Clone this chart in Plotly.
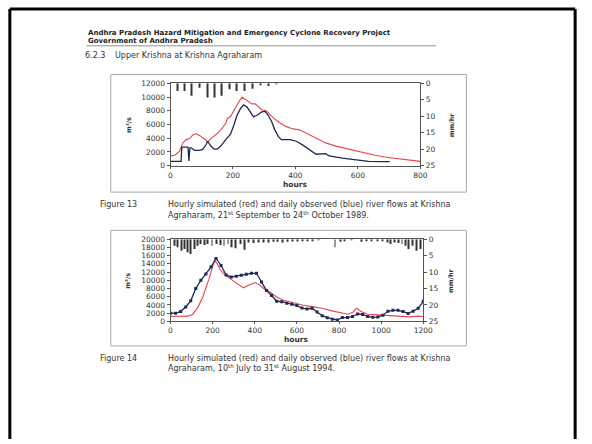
import plotly.graph_objects as go

W, H = 592, 444

# ---------------- Figure 13 data (21 Sep - 24 Oct 1989) ----------------
f13_sim_hours = [0, 14, 29, 40, 50, 61, 72, 82, 93, 103, 114, 119, 129, 145, 161, 177, 182, 192,
                 203, 219, 229, 240, 250, 261, 271, 282, 292, 303, 313, 329, 350, 371, 392, 413,
                 434, 466, 497, 529, 571, 613, 655, 697, 739, 800]
f13_sim_flow = [1420, 1520, 2130, 3320, 3800, 3940, 4500, 4650, 4410, 4130, 3700, 3460, 3940, 4500,
                5220, 6170, 6880, 7120, 8060, 9340, 9960, 9630, 9250, 9010, 9010, 8540, 8160, 8060,
                7730, 6970, 6260, 5690, 5360, 5220, 4740, 3940, 3320, 2850, 2370, 1900, 1520, 1190,
                950, 620]

f13_obs_hours = [0, 34, 36, 56, 59, 62, 66, 77, 93, 103, 114, 119, 129, 140, 150, 161, 177, 192,
                 203, 213, 224, 234, 245, 258, 266, 277, 292, 303, 313, 324, 334, 345, 355, 382,
                 403, 424, 445, 466, 497, 508, 550, 592, 634, 687, 702]
f13_obs_flow = [620, 620, 2700, 2700, 700, 2600, 2600, 2230, 2230, 2370, 3080, 3560, 2850, 2420,
                2420, 2850, 3800, 4600, 5930, 7350, 8300, 8870, 8540, 7590, 7120, 7350, 7830, 7920,
                7350, 6400, 5220, 4270, 3800, 3800, 3560, 2990, 2370, 1660, 1760, 1420, 1090, 810,
                620, 600, 600]

f13_rain_hours = [21, 45, 68, 93, 118, 141, 165, 189, 213, 238, 262, 287, 314, 338]
f13_rain_mm = [2.3, 2.3, 3.8, 1.3, 4.3, 4.3, 3.8, 1.8, 2.3, 2.3, 1.6, 0.6, 0.8, 0.3]

# ---------------- Figure 14 data (10 Jul - 31 Aug 1994) ----------------
f14_sim_hours = [0, 36, 82, 106, 129, 152, 168, 183, 199, 210, 222, 238, 261, 284, 315, 346, 370,
                 385, 401, 424, 447, 470, 502, 533, 564, 595, 626, 672, 719, 766, 812, 843, 866,
                 882, 905, 936, 983, 1030, 1092, 1138, 1169, 1200]
f14_sim_flow = [1200, 1200, 1280, 1760, 3360, 5760, 8000, 10400, 13200, 14800, 14000, 12400, 11200,
                10400, 9200, 8160, 8800, 9200, 9440, 8800, 7840, 7200, 6000, 5200, 4800, 4400, 4000,
                3600, 3200, 2560, 2000, 1760, 2240, 3200, 2400, 1760, 1600, 1440, 1360, 1120, 1280,
                1200]

f14_obs_hours = [0, 24, 48, 72, 96, 120, 144, 168, 192, 216, 240, 264, 288, 312, 336, 360, 384,
                 408, 432, 456, 480, 504, 528, 552, 576, 600, 624, 648, 672, 696, 720, 744, 768,
                 792, 816, 840, 864, 888, 912, 936, 960, 984, 1008, 1032, 1056, 1080, 1104, 1128,
                 1152, 1176, 1200]
f14_obs_flow = [2000, 2000, 2400, 3500, 5000, 8000, 10000, 11500, 13200, 15300, 13600, 11300, 10800,
                11000, 11250, 11450, 11700, 11700, 9600, 7500, 6300, 4900, 4800, 4450, 4200, 3850,
                3250, 3050, 3200, 2300, 1400, 900, 550, 350, 950, 950, 1200, 1800, 1700, 1200, 1000,
                1050, 1500, 2450, 2700, 2700, 2400, 1950, 2500, 3200, 4900]

f14_rain_hours = [19, 34, 50, 65, 81, 96, 112, 127, 143, 161, 177, 197, 220, 239, 254, 273, 288,
                  310, 332, 350, 371, 394, 417, 440, 464, 487, 510, 533, 557, 580, 603, 626, 650,
                  673, 704, 781, 805, 828, 859, 905, 929, 952, 983, 1006, 1029, 1045, 1064, 1084,
                  1099, 1115, 1132, 1150, 1166, 1185]
f14_rain_mm = [2.0, 2.5, 3.5, 3.0, 4.0, 4.5, 3.0, 2.0, 1.5, 1.8, 1.5, 2.0, 1.5, 1.8, 2.0, 1.5, 2.5,
               2.8, 1.5, 3.2, 1.0, 1.2, 1.0, 1.0, 1.0, 0.8, 0.8, 1.0, 0.8, 0.7, 0.7, 0.5, 0.5, 0.5,
               0.3, 2.5, 0.8, 0.5, 0.3, 0.8, 0.5, 0.4, 0.5, 0.5, 1.0, 1.5, 1.0, 1.2, 1.5, 2.0, 3.0,
               2.0, 3.5, 3.0]

flow_ticks_13 = [0, 2000, 4000, 6000, 8000, 10000, 12000]
flow_ticks_14 = [0, 2000, 4000, 6000, 8000, 10000, 12000, 14000, 16000, 18000, 20000]
rain_ticks = [0, 5, 10, 15, 20, 25]
hour_ticks_13 = [0, 200, 400, 600, 800]
hour_ticks_14 = [0, 200, 400, 600, 800, 1000, 1200]

RED = "#e5464f"
NAVY = "#1d2a57"
RAIN = "#333333"
FONT = "DejaVu Sans"
TXT = "#333333"


def px(x):
    return x / W


def py(y):
    return 1 - y / H


fig = go.Figure()

# Figure 13 traces
fig.add_trace(go.Bar(x=f13_rain_hours, y=f13_rain_mm, width=3.5, marker=dict(color=RAIN, line=dict(width=0)),
                     xaxis="x", yaxis="y2", showlegend=False))
fig.add_trace(go.Scatter(x=f13_sim_hours, y=f13_sim_flow, mode="lines", line=dict(color=RED, width=1.1),
                         xaxis="x", yaxis="y", showlegend=False))
fig.add_trace(go.Scatter(x=f13_obs_hours, y=f13_obs_flow, mode="lines", line=dict(color=NAVY, width=1.3),
                         xaxis="x", yaxis="y", showlegend=False))

# Figure 14 traces
fig.add_trace(go.Bar(x=f14_rain_hours, y=f14_rain_mm, width=4.5, marker=dict(color=RAIN, line=dict(width=0)),
                     xaxis="x2", yaxis="y4", showlegend=False))
fig.add_trace(go.Scatter(x=f14_sim_hours, y=f14_sim_flow, mode="lines", line=dict(color=RED, width=1.1),
                         xaxis="x2", yaxis="y3", showlegend=False))
fig.add_trace(go.Scatter(x=f14_obs_hours, y=f14_obs_flow, mode="lines+markers",
                         line=dict(color=NAVY, width=1.3), marker=dict(symbol="square", size=3, color=NAVY),
                         xaxis="x2", yaxis="y3", showlegend=False))

tickfont = dict(family=FONT, size=7.5, color=TXT)
axis_common = dict(showgrid=False, zeroline=False, showline=True, linecolor="#555555", linewidth=1,
                   ticks="outside", tickcolor="#555555", tickfont=tickfont, tickformat="d")

fig.update_layout(
    width=W, height=H, margin=dict(l=0, r=0, t=0, b=0),
    paper_bgcolor="white", plot_bgcolor="white", barmode="overlay", showlegend=False,
    xaxis=dict(domain=[px(172), px(427)], range=[0, 800], tickvals=hour_ticks_13, mirror=True,
               anchor="y", ticklen=2, **axis_common),
    yaxis=dict(domain=[py(165), py(81)], range=[0, 12000], tickvals=flow_ticks_13, anchor="x",
               ticklen=3, **axis_common),
    yaxis2=dict(overlaying="y", side="right", range=[25, 0], tickvals=rain_ticks, anchor="x",
                ticklen=3, **axis_common),
    xaxis2=dict(domain=[px(172), px(430)], range=[0, 1200], tickvals=hour_ticks_14, mirror=True,
                anchor="y3", ticklen=2, **axis_common),
    yaxis3=dict(domain=[py(324), py(240)], range=[0, 20000], tickvals=flow_ticks_14, anchor="x2",
                ticklen=3, **axis_common),
    yaxis4=dict(overlaying="y3", side="right", range=[25, 0], tickvals=rain_ticks, anchor="x2",
                ticklen=3, **axis_common),
)

shapes = []
# page border
for (x0, y0, x1, y1) in [(8, 5, 585, 5), (8, 5, 8, 444), (585, 5, 585, 444)]:
    shapes.append(dict(type="line", xref="paper", yref="paper", x0=px(x0), y0=py(y0), x1=px(x1), y1=py(y1),
                       line=dict(color="black", width=3)))
# header rule
shapes.append(dict(type="line", xref="paper", yref="paper", x0=px(86), y0=py(42.5), x1=px(443), y1=py(42.5),
                   line=dict(color="#b5b5b5", width=1.5)))
# chart frames
for (x0, y0, x1, y1) in [(111, 72, 474, 192), (111, 231, 474, 349)]:
    shapes.append(dict(type="rect", xref="paper", yref="paper", x0=px(x0), y0=py(y1), x1=px(x1), y1=py(y0),
                       line=dict(color="#a8a8a8", width=1), fillcolor="rgba(0,0,0,0)", layer="below"))
fig.update_layout(shapes=shapes)

ann = []


def text(x, y, s, size=7, bold=False, anchor="left", angle=0, color=TXT):
    ann.append(dict(xref="paper", yref="paper", x=px(x), y=py(y), text=(f"<b>{s}</b>" if bold else s),
                    showarrow=False, xanchor=anchor, yanchor="middle", textangle=angle,
                    font=dict(family=FONT, size=size, color=color)))


text(86, 30, "Andhra Pradesh Hazard Mitigation and Emergency Cyclone Recovery Project", size=7,
     bold=True, color="#222222")
text(86, 38, "Government of Andhra Pradesh", size=7, bold=True, color="#222222")
text(83, 53, "6.2.3", size=8)
text(113, 53, "Upper Krishna at Krishna Agraharam", size=8)

# axis titles
text(129, 123, "m³/s", size=6.5, bold=True, anchor="center", angle=-90)
text(459, 123, "mm/hr", size=6.5, bold=True, anchor="center", angle=-90)
text(300, 184, "hours", size=7.5, bold=True, anchor="center")
text(129, 282, "m³/s", size=6.5, bold=True, anchor="center", angle=-90)
text(459, 282, "mm/hr", size=6.5, bold=True, anchor="center", angle=-90)
text(301, 342, "hours", size=7.5, bold=True, anchor="center")

# captions
text(98, 205, "Figure 13", size=8)
text(167, 205, "Hourly simulated (red) and daily observed (blue) river flows at Krishna", size=8)
text(167, 215, "Agraharam, 21<sup>st</sup> September to 24<sup>th</sup> October 1989.", size=8)
text(98, 362, "Figure 14", size=8)
text(167, 362, "Hourly simulated (red) and daily observed (blue) river flows at Krishna", size=8)
text(167, 372, "Agraharam, 10<sup>th</sup> July to 31<sup>st</sup> August 1994.", size=8)

fig.update_layout(annotations=ann)

fig.write_html("out.html")
